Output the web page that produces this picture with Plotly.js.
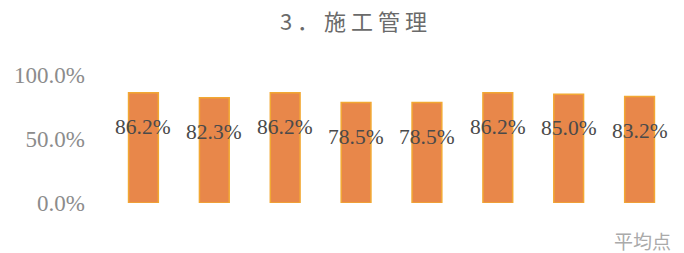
<!DOCTYPE html>
<html>
<head>
<meta charset="utf-8">
<script src="https://cdn.plot.ly/plotly-3.0.1.min.js"></script>
<style>
html,body{margin:0;padding:0;background:#fff;}
#chart{width:684px;height:253px;}
.gtitle{letter-spacing:5px;}
</style>
</head>
<body>
<div id="chart"></div>
<script>
const categories = ["1", "2", "3", "4", "5", "6", "7", "8"];
const values = [86.2, 82.3, 86.2, 78.5, 78.5, 86.2, 85.0, 83.2];
const valueLabels = ["86.2%", "82.3%", "86.2%", "78.5%", "78.5%", "86.2%", "85.0%", "83.2%"];
const yTickValues = [0, 50, 100];
const yTickLabels = ["0.0%", "50.0%", "100.0%"];
const titleText = "3．施工管理";
const footText = "平均点";

const trace = {
  type: "bar",
  x: categories,
  y: values,
  marker: {color: "#E8874A", line: {color: "#F2A833", width: 1.5}},
  hoverinfo: "none"
};

const annotations = categories.map((c, i) => ({
  x: i, y: values[i], xref: "x", yref: "y",
  text: valueLabels[i], showarrow: false,
  yanchor: "middle", xanchor: "center", yshift: -34,
  font: {family: "Liberation Serif, serif", size: 21.5, color: "#4a4a4a"}
}));
annotations.push({
  x: 1, y: -0.29, xref: "paper", yref: "paper",
  xanchor: "right", yanchor: "middle", xshift: -2,
  text: footText, showarrow: false,
  font: {family: "Noto Sans CJK JP, sans-serif", size: 19, color: "#aaa"}
});

const layout = {
  width: 684, height: 253,
  margin: {l: 107.5, r: 8.5, t: 75, b: 50},
  paper_bgcolor: "#fff", plot_bgcolor: "#fff",
  showlegend: false,
  bargap: 0.58,
  title: {
    text: titleText, x: 356/684, xanchor: "center", xref: "container",
    y: 1 - 22/253, yanchor: "middle", yref: "container",
    font: {family: "Noto Sans CJK JP, sans-serif", size: 22, color: "#6a6a6a"}
  },
  xaxis: {
    type: "category", range: [-0.5, 7.5], showticklabels: false,
    showgrid: false, zeroline: false, showline: false, ticks: ""
  },
  yaxis: {
    range: [0, 100], tickmode: "array", tickvals: yTickValues, ticktext: yTickLabels,
    showgrid: false, zeroline: false, showline: false, ticks: "",
    ticklabelstandoff: 22,
    tickfont: {family: "Liberation Serif, serif", size: 23, color: "#8c8c8c"}
  },
  annotations: annotations
};

Plotly.newPlot("chart", [trace], layout, {displayModeBar: false, staticPlot: true});
</script>
</body>
</html>
